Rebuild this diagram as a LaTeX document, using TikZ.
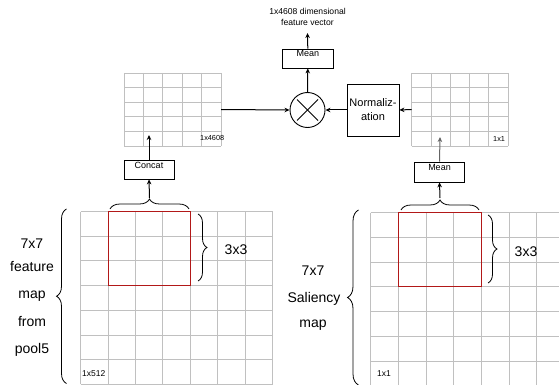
\documentclass[tikz,border=0pt]{standalone}
\usepackage{fontspec}
\setmainfont{Liberation Sans}
\usetikzlibrary{arrows.meta,decorations.pathreplacing}
\begin{document}
\begin{tikzpicture}[x=1pt,y=-1pt,
  gridline/.style={draw={rgb,255:red,192;green,192;blue,192},line width=0.9pt},
  redbox/.style={draw={rgb,255:red,178;green,24;blue,24},line width=1pt},
  opbox/.style={draw,line width=0.8pt,inner sep=0pt,font=\fontsize{9}{10}\selectfont},
  arr/.style={-{Stealth[length=5pt,width=4.5pt]},line width=1pt},
  brc/.style={decorate,decoration={brace,amplitude=#1},line width=0.8pt},
  big/.style={font=\fontsize{14}{16}\selectfont,inner sep=0pt,anchor=base},
  lbl/.style={font=\fontsize{#1}{10}\selectfont,inner sep=0pt,anchor=base west}]

\useasboundingbox (0,0) rectangle (559,385);

% big left grid
\foreach \i in {0,...,7} \draw[gridline] ({80.7+\i*27.4},211.5) -- ({80.7+\i*27.4},384.4);
\foreach \j in {0,...,7} \draw[gridline] (80.7,{211.5+\j*24.7}) -- (272.5,{211.5+\j*24.7});
% big right grid
\foreach \i in {0,...,7} \draw[gridline] ({370.7+\i*27.7},212.5) -- ({370.7+\i*27.7},386);
\foreach \j in {0,...,7} \draw[gridline] (370.7,{212.5+\j*24.8}) -- (570,{212.5+\j*24.8});
% small left grid
\foreach \i in {0,...,5} \draw[gridline] ({124+\i*19.4},73) -- ({124+\i*19.4},146);
\foreach \j in {0,...,5} \draw[gridline] (124,{73+\j*14.6}) -- (221,{73+\j*14.6});
% small right grid
\foreach \i in {0,...,5} \draw[gridline] ({411.7+\i*19.3},73) -- ({411.7+\i*19.3},146);
\foreach \j in {0,...,5} \draw[gridline] (411.7,{73+\j*14.6}) -- (508.2,{73+\j*14.6});

\node[minimum width=97pt,minimum height=73pt,inner sep=0pt] (lsg) at (172.5,109.5) {};
\node[minimum width=96.5pt,minimum height=73pt,inner sep=0pt] (rsg) at (460,109.5) {};

% red windows
\draw[redbox] (108.1,211.5) rectangle (190.3,285.6);
\draw[redbox] (398.4,212.5) rectangle (481.5,286.9);

% grid labels
\node[lbl=8.5] (l512) at (82,376) {1x512};
\node[lbl=8.5] (l11b) at (377,376) {1x1};
\node[lbl=7.3] (l4608) at (200,140) {1x4608};
\node[lbl=7.3] (l11t) at (493,141) {1x1};

% braces
\draw[brc=10pt] (110,209) -- (189,209);
\draw[brc=10pt] (401,210) -- (479,210);
\draw[brc=9pt] (198,214) -- (198,281);
\draw[brc=9pt] (488,215) -- (488,283);
\draw[brc=10pt] (66.5,383.5) -- (66.5,209);
\draw[brc=11pt] (358.5,385) -- (358.5,210);

\coordinate (lbt) at (149.5,198);
\coordinate (rbt) at (440,198);
\coordinate (lin) at (149,135);
\coordinate (rin) at (440,137);
\coordinate (outtip) at (307.5,33);

% left texts
\node[big] (t1) at (32,248) {7x7};
\node[big] (t2) at (32,271) {feature};
\node[big] (t3) at (32,298) {map};
\node[big] (t4) at (32,326) {from};
\node[big] (t5) at (32,353) {pool5};
% right texts
\node[big] (s1) at (313,275) {7x7};
\node[big] (s2) at (314,302) {Saliency};
\node[big] (s3) at (313,327) {map};
% 3x3
\node[big] (w1) at (236,254) {3x3};
\node[big] (w2) at (526,256) {3x3};

% boxes
\node[opbox,minimum width=50pt,text height=8.5pt,text depth=10.5pt] (concat) at (149,169.5) {Concat};
\node[opbox,minimum width=50pt,text height=8.3pt,text depth=11.7pt] (rmean) at (439.5,172) {Mean};
\node[opbox,minimum width=50.5pt,text height=7.5pt,text depth=11.5pt] (mean) at (307.8,58.5) {Mean};
\node[opbox,minimum width=52pt,minimum height=52pt,align=center,font=\fontsize{11}{14}\selectfont] (norm) at (373,110) {Normaliz-\\ation};
\node[draw,circle,line width=0.9pt,minimum size=35pt,inner sep=0pt] (mul) at (307.5,110) {};
\draw[line width=0.9pt] ([shift={(-10.5,-10.5)}]mul.center) -- ([shift={(10.5,10.5)}]mul.center);
\draw[line width=0.9pt] ([shift={(-10.5,10.5)}]mul.center) -- ([shift={(10.5,-10.5)}]mul.center);

\node[align=center,font=\fontsize{8.6}{11}\selectfont,inner sep=0pt] (out) at (307.5,17) {1x4608 dimensional\\feature vector};

% connectors
\draw[arr] (lbt) -- (concat.south);
\draw[arr] (concat.north) -- (lin);
\draw[arr] (rbt) -- (rmean.south);
\draw[arr,draw={rgb,255:red,100;green,100;blue,100}] (rmean.north) -- (rin);
\draw[arr] (lsg.east) -- (mul.west);
\draw[arr] (rsg.west) -- (norm.east);
\draw[arr] (norm.west) -- (mul.east);
\draw[arr] (mul.north) -- (mean.south);
\draw[arr] (mean.north) -- (outtip);
\end{tikzpicture}
\end{document}
